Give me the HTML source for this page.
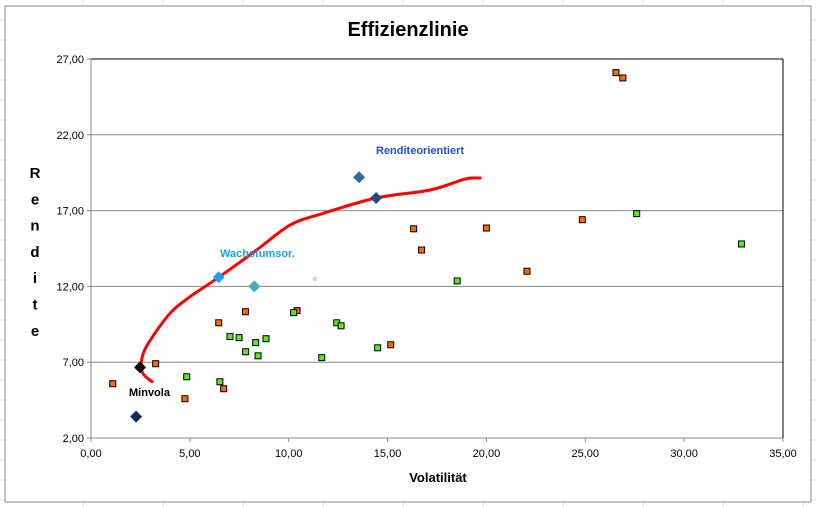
<!DOCTYPE html>
<html><head><meta charset="utf-8"><style>
body{margin:0;width:816px;height:507px;overflow:hidden;background:#fff;font-family:"Liberation Sans",sans-serif}
svg{display:block}
</style></head><body>
<svg id="c" width="816" height="507"></svg>
<script>
const orangeX=[1.10,3.27,4.75,6.71,6.46,7.81,10.42,15.16,16.32,16.72,20.0,22.05,24.85,26.55,26.9];
const orangeY=[5.58,6.90,4.59,5.25,9.6,10.33,10.40,8.15,15.8,14.4,15.85,13.0,16.4,26.1,25.75];
const greenX=[4.84,6.52,7.03,7.49,8.33,8.85,7.82,8.45,10.25,12.43,12.65,11.67,14.50,18.52,27.6,32.9];
const greenY=[6.04,5.71,8.69,8.62,8.29,8.55,7.69,7.42,10.27,9.6,9.4,7.3,7.95,12.36,16.8,14.8];
const diamondNames=["minvola","min-return","wachstum","wachstum-alt","rendite-alt","renditeorientiert"];
const diamondX=[2.48,2.28,6.46,8.26,13.56,14.42];
const diamondY=[6.66,3.41,12.6,12.0,19.2,17.83];
const diamondColors=["#000","#0f2d55","#1aa3e8","#4aa9c8","#2e6e9e","#294a80"];
const curveX=[3.09,2.62,2.56,2.90,4.00,5.01,6.46,8.38,10.07,11.75,14.42,17.15,18.92,19.68];
const curveY=[5.71,6.27,7.15,8.25,10.23,11.32,12.60,14.40,16.05,16.82,17.83,18.36,19.08,19.15];
const xTicks=[0,5,10,15,20,25,30,35];
const yTicks=[2,7,12,17,22,27];
const X0=91,X1=783,Y0=438,Y1=59;
const sx=v=>X0+(v-0)/35*(X1-X0);
const sy=v=>Y0-(v-2)/25*(Y0-Y1);
const NS="http://www.w3.org/2000/svg";
const svg=document.getElementById('c');
function mk(t,a,p){const e=document.createElementNS(NS,t);for(const k in a)e.setAttribute(k,a[k]);(p||svg).appendChild(e);return e;}
for(let x=83;x<816;x+=80){mk('line',{x1:x,y1:0,x2:x,y2:507,stroke:'#dcdcdc'});}
for(let y=20;y<507;y+=20){mk('line',{x1:0,y1:y,x2:816,y2:y,stroke:'#dcdcdc'});}
const frame=mk('rect',{x:5,y:6,width:806,height:496,fill:'#fff',stroke:'#888'});

const title=mk('text',{x:408,y:36,'text-anchor':'middle','font-size':20,'font-weight':'bold'});title.textContent='Effizienzlinie';

yTicks.forEach(v=>{
 const g=mk('line',{x1:X0,y1:sy(v),x2:X1,y2:sy(v),stroke:v==27?'#000':'#888','stroke-width':1});
 
 mk('line',{x1:X0-4,y1:sy(v),x2:X0,y2:sy(v),stroke:'#888'});
 const t=mk('text',{x:X0-7,y:sy(v)+4,'text-anchor':'end','font-size':11});t.textContent=v.toFixed(2).replace('.',',');
 
});
mk('line',{x1:X0,y1:Y1,x2:X0,y2:Y0,stroke:'#888'});
mk('line',{x1:X1,y1:Y1,x2:X1,y2:Y0,stroke:'#000'});
xTicks.forEach(v=>{
 mk('line',{x1:sx(v),y1:Y0,x2:sx(v),y2:Y0+4,stroke:'#888'});
 const t=mk('text',{x:sx(v),y:Y0+19,'text-anchor':'middle','font-size':11});t.textContent=v.toFixed(2).replace('.',',');
 
});
const xt=mk('text',{x:438,y:482,'text-anchor':'middle','font-size':13,'font-weight':'bold'});xt.textContent='Volatilität';

const yt=mk('text',{x:35,y:178,'text-anchor':'middle','font-size':15,'font-weight':'bold'});

'Rendite'.split('').forEach((ch,i)=>{const s=mk('tspan',{x:35,y:178+i*26.3},yt);s.textContent=ch;});
mk('circle',{cx:sx(11.33),cy:sy(12.5),r:2.5,fill:'#ddd'});
// smooth curve (Catmull-Rom)
const P=curveX.map((x,i)=>[sx(x),sy(curveY[i])]);
let d='M'+P[0][0]+','+P[0][1];
for(let i=0;i<P.length-1;i++){
 const p0=P[i-1]||P[i],p1=P[i],p2=P[i+1],p3=P[i+2]||p2;
 const c1=[p1[0]+(p2[0]-p0[0])/6,p1[1]+(p2[1]-p0[1])/6];
 const c2=[p2[0]-(p3[0]-p1[0])/6,p2[1]-(p3[1]-p1[1])/6];
 d+=` C${c1[0]},${c1[1]} ${c2[0]},${c2[1]} ${p2[0]},${p2[1]}`;
}
const cv=mk('path',{d:d,fill:'none',stroke:'#f00','stroke-width':3,'stroke-linejoin':'round','stroke-linecap':'round'});

function sq(x,y,c,n){const r=mk('rect',{x:sx(x)-3,y:sy(y)-3,width:6,height:6,fill:c,stroke:'#000','stroke-width':1});
 }
orangeX.forEach((x,i)=>sq(x,orangeY[i],'#ff6a00','orange-asset-point'));
greenX.forEach((x,i)=>sq(x,greenY[i],'#5ee62a','green-asset-point'));
diamondX.forEach((x,i)=>{const cx=sx(x),cy=sy(diamondY[i]);
 const dm=mk('polygon',{points:`${cx},${cy-6} ${cx+6},${cy} ${cx},${cy+6} ${cx-6},${cy}`,fill:diamondColors[i]});
 });
function lbl(txt,x,y,c,n){const t=mk('text',{x:x,y:y,'font-size':11,'font-weight':'bold',fill:c});t.textContent=txt;
 }
lbl('Renditeorientiert',376,154,'#1f4fd0','label-renditeorientiert');
lbl('Wachstumsor.',220,257,'#1aa3e8','label-wachstumsor');
lbl('Minvola',129,396,'#000','label-minvola');
</script>
</body></html>
